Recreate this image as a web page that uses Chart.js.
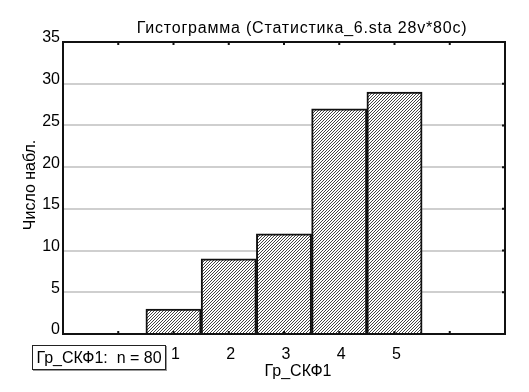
<!DOCTYPE html>
<html><head><meta charset="utf-8">
<script src="https://cdn.jsdelivr.net/npm/chart.js@4/dist/chart.umd.min.js"></script>
<style>
html,body{margin:0;padding:0;background:#fff;}
#wrap{position:relative;width:529px;height:392px;}
#legend{position:absolute;left:32px;top:345px;width:132px;height:23px;border:1px solid #222;box-shadow:1px 1px 0 #999;font:16px "Liberation Sans",Arial,sans-serif;line-height:23px;text-align:center;color:#000;white-space:pre;}
</style></head>
<body>
<div id="wrap"><canvas id="c" width="529" height="392"></canvas><div id="legend">Гр_СКФ1:  n = 80</div></div>
<script>
const categories = [1, 2, 3, 4, 5];
const counts = [3, 9, 12, 27, 29];
const yTicks = [0, 5, 10, 15, 20, 25, 30, 35];
const titleText = "Гистограмма (Статистика_6.sta 28v*80c)";
const xTitle = "Гр_СКФ1";
const yTitle = "Число набл.";

const FONT = '"Liberation Sans", Arial, sans-serif';

function hatch(){
  const t = document.createElement('canvas');
  t.width = 3; t.height = 3;
  const g = t.getContext('2d');
  g.fillStyle = '#fff'; g.fillRect(0,0,3,3);
  g.fillStyle = '#444';
  g.fillRect(2,0,1,1); g.fillRect(1,1,1,1); g.fillRect(0,2,1,1);
  return g.createPattern(t,'repeat');
}

const deco = {
  id:'deco',
  afterDraw(chart){
    const {ctx, chartArea:a, scales:{x,y}} = chart;
    ctx.save();
    ctx.strokeStyle = '#111'; ctx.lineWidth = 2;
    ctx.strokeRect(a.left, a.top, a.right-a.left, a.bottom-a.top);
    ctx.beginPath();
    for (let v=0; v<=6; v++){
      const px = x.getPixelForValue(v);
      ctx.moveTo(px, a.bottom); ctx.lineTo(px, a.bottom-3);
      ctx.moveTo(px, a.top); ctx.lineTo(px, a.top+3);
    }
    for (const v of yTicks){
      const py = y.getPixelForValue(v);
      ctx.moveTo(a.right, py); ctx.lineTo(a.right-3, py);
    }
    ctx.stroke();
    ctx.fillStyle = '#000';
    ctx.font = '16px ' + FONT;
    ctx.textAlign = 'center'; ctx.textBaseline = 'alphabetic';
    ctx.letterSpacing = '0.8px';
    ctx.fillText(titleText, 302, 33);
    ctx.letterSpacing = '0px';
    ctx.fillText(xTitle, 298, 376);
    ctx.translate(35, (a.top+a.bottom)/2 - 3);
    ctx.rotate(-Math.PI/2);
    ctx.fillText(yTitle, 0, 0);
    ctx.restore();
  }
};

new Chart(document.getElementById('c'), {
  type:'bar',
  data:{
    datasets:[{
      data: categories.map((c,i)=>({x:c, y:counts[i]})),
      backgroundColor: hatch(),
      borderColor:'#111',
      borderWidth:2,
      borderSkipped:'bottom',
      barPercentage:1,
      categoryPercentage:1
    }]
  },
  options:{
    responsive:false,
    animation:false,
    layout:{padding:{left:0,right:24,top:42,bottom:0}},
    plugins:{legend:{display:false},tooltip:{enabled:false},title:{display:false}},
    scales:{
      x:{
        type:'linear', min:-1, max:7, offset:false,
        grid:{display:false},
        border:{display:false},
        afterFit(s){ s.height = 58; },
        afterBuildTicks(s){ s.ticks = [0,1,2,3,4,5,6].map(v=>({value:v})); },
        ticks:{
          padding:3,
          labelOffset:2,
          color:'#000',
          font:{family:FONT,size:16},
          maxRotation:0,
          callback:(v)=> categories.includes(v) ? String(v) : ''
        }
      },
      y:{
        min:0, max:35,
        afterFit(s){ s.width = 63; },
        afterBuildTicks(s){ s.ticks = yTicks.map(v=>({value:v})); },
        grid:{color:'#cfcfcf', lineWidth:2, drawTicks:false},
        border:{display:false},
        ticks:{
          padding:3,
          labelOffset:-4,
          color:'#000',
          font:{family:FONT,size:16}
        }
      }
    }
  },
  plugins:[deco]
});
</script>
</body></html>
